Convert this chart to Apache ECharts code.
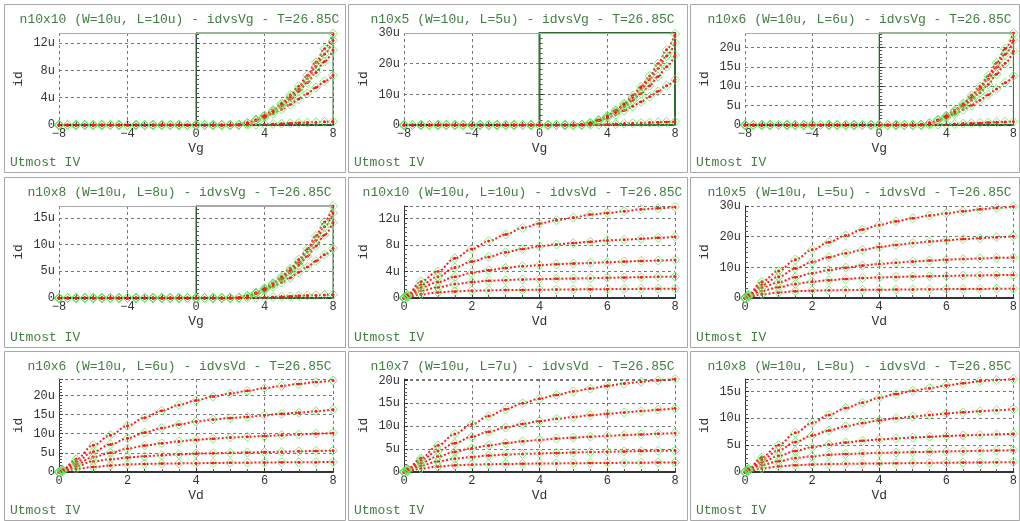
<!DOCTYPE html>
<html>
<head>
<meta charset="utf-8">
<script src="https://cdn.jsdelivr.net/npm/echarts@6/dist/echarts.min.js"></script>
<style>
html,body{margin:0;padding:0;background:#fff;}
#c{width:1020px;height:521px;}
</style>
</head>
<body>
<div id="c"></div>
<script>
// ---------- sweep grids (V) ----------
const vgOff = [-8,-7.5,-7,-6.5,-6,-5.5,-5,-4.5,-4,-3.5,-3,-2.5,-2,-1.5,-1,-0.5,0,0.5,1,1.5];
const idOff = [0,0,0,0,0,0,0,0,0,0,0,0,0,0,0,0,0,0,0,0];
const vgOn  = [2,2.5,3,3.5,4,4.5,5,5.5,6,6.5,7,7.5,8];
const vdPts = [0,0.1,0.5,1,1.5,2,2.5,3,3.5,4,4.5,5,5.5,6,6.5,7,7.5,8];

// ---------- id vs Vg (uA), curves for Vd = 8, 6, 4, 2, 0.1 ----------
const n10x10_vg_vd8  = [0,0.05,0.3,0.75,1.4,2.2,3.2,4.4,5.7,7.3,9.2,11.2,13.4];
const n10x10_vg_vd6  = [0,0.05,0.3,0.75,1.35,2.1,3.0,4.1,5.3,6.8,8.6,10.4,12.4];
const n10x10_vg_vd4  = [0,0.05,0.3,0.72,1.3,2.0,2.8,3.7,4.9,6.2,7.7,9.3,11.0];
const n10x10_vg_vd2  = [0,0.05,0.28,0.65,1.1,1.7,2.3,3.0,3.8,4.6,5.5,6.4,7.3];
const n10x10_vg_vd01 = [0,0,0.02,0.05,0.1,0.15,0.2,0.26,0.32,0.37,0.42,0.46,0.5];

const n10x5_vg_vd8  = [0,0.1,0.7,1.6,3.0,4.8,7.0,9.6,12.5,16.0,20.0,24.5,29.7];
const n10x5_vg_vd6  = [0,0.1,0.7,1.6,2.9,4.6,6.6,9.0,11.7,14.8,18.5,22.5,26.8];
const n10x5_vg_vd4  = [0,0.1,0.65,1.5,2.7,4.2,6.0,8.0,10.3,12.8,15.8,19.0,22.8];
const n10x5_vg_vd2  = [0,0.1,0.6,1.35,2.3,3.4,4.7,6.1,7.6,9.2,11.0,12.8,14.8];
const n10x5_vg_vd01 = [0,0,0.04,0.1,0.2,0.3,0.42,0.54,0.66,0.78,0.9,1.0,1.1];

const n10x6_vg_vd8  = [0,0.08,0.5,1.3,2.4,3.8,5.5,7.6,9.9,12.7,16.0,19.6,23.7];
const n10x6_vg_vd6  = [0,0.08,0.5,1.3,2.3,3.6,5.2,7.1,9.3,11.8,14.9,18.2,21.8];
const n10x6_vg_vd4  = [0,0.08,0.5,1.2,2.2,3.4,4.8,6.4,8.3,10.5,13.1,15.9,19.0];
const n10x6_vg_vd2  = [0,0.08,0.45,1.1,1.9,2.8,3.9,5.1,6.4,7.8,9.3,10.9,12.6];
const n10x6_vg_vd01 = [0,0,0.03,0.08,0.16,0.25,0.34,0.44,0.54,0.63,0.72,0.8,0.88];

const n10x8_vg_vd8  = [0,0.06,0.38,0.95,1.8,2.8,4.0,5.5,7.2,9.2,11.6,14.2,17.2];
const n10x8_vg_vd6  = [0,0.06,0.38,0.95,1.7,2.7,3.8,5.2,6.7,8.6,10.8,13.3,15.9];
const n10x8_vg_vd4  = [0,0.06,0.37,0.9,1.6,2.5,3.5,4.7,6.1,7.8,9.7,11.8,14.1];
const n10x8_vg_vd2  = [0,0.06,0.35,0.8,1.4,2.1,2.9,3.8,4.8,5.8,6.9,8.1,9.3];
const n10x8_vg_vd01 = [0,0,0.02,0.06,0.12,0.19,0.25,0.32,0.4,0.46,0.53,0.58,0.63];

// ---------- id vs Vd (uA), curves for Vg = 8, 7, 6, 5, 4 ----------
const n10x10_vd_vg8 = [0,0.5,2.5,4.0,6.0,7.4,8.6,9.6,10.6,11.25,11.75,12.15,12.6,12.85,13.1,13.4,13.55,13.75];
const n10x10_vd_vg7 = [0,0.42,2.0,3.2,4.6,5.5,6.2,6.9,7.4,7.8,8.1,8.3,8.5,8.7,8.8,8.95,9.1,9.25];
const n10x10_vd_vg6 = [0,0.33,1.6,2.4,3.2,3.8,4.2,4.55,4.8,4.95,5.1,5.2,5.3,5.4,5.5,5.6,5.65,5.75];
const n10x10_vd_vg5 = [0,0.22,1.1,1.6,2.1,2.4,2.6,2.7,2.8,2.85,2.9,2.95,3.0,3.05,3.1,3.15,3.2,3.25];
const n10x10_vd_vg4 = [0,0.1,0.55,0.85,1.0,1.1,1.15,1.2,1.22,1.25,1.27,1.3,1.32,1.34,1.36,1.38,1.39,1.4];

const n10x5_vd_vg8 = [0,1.1,5.3,8.8,12.5,15.7,18.2,20.4,22.3,23.8,25.0,26.0,26.9,27.6,28.3,28.9,29.4,29.8];
const n10x5_vd_vg7 = [0,0.9,4.3,6.9,9.6,11.7,13.3,14.6,15.7,16.6,17.3,17.9,18.4,18.8,19.2,19.5,19.8,20.1];
const n10x5_vd_vg6 = [0,0.7,3.4,5.1,6.8,8.1,9.1,9.9,10.6,11.1,11.5,11.9,12.2,12.5,12.7,12.9,13.1,13.2];
const n10x5_vd_vg5 = [0,0.5,2.3,3.5,4.6,5.3,5.8,6.2,6.5,6.7,6.85,7.0,7.1,7.2,7.3,7.35,7.45,7.5];
const n10x5_vd_vg4 = [0,0.22,1.2,1.8,2.2,2.4,2.5,2.6,2.65,2.7,2.75,2.8,2.85,2.9,2.93,2.96,3.0,3.03];

const n10x6_vd_vg8 = [0,0.6,3.3,7.0,9.6,12.1,14.2,16.0,17.5,18.7,19.7,20.5,21.2,21.9,22.5,23.0,23.5,23.9];
const n10x6_vd_vg7 = [0,0.5,2.7,5.3,7.2,8.8,10.3,11.5,12.4,13.2,13.7,14.1,14.4,14.8,15.2,15.5,15.9,16.3];
const n10x6_vd_vg6 = [0,0.4,2.1,3.9,5.0,6.1,6.9,7.5,8.0,8.4,8.7,9.0,9.2,9.4,9.6,9.8,10.0,10.2];
const n10x6_vd_vg5 = [0,0.27,1.5,2.8,3.3,3.8,4.1,4.4,4.6,4.8,4.9,5.0,5.1,5.2,5.3,5.4,5.5,5.6];
const n10x6_vd_vg4 = [0,0.12,0.8,1.3,1.7,2.0,2.1,2.2,2.25,2.3,2.35,2.4,2.44,2.48,2.52,2.55,2.58,2.6];

const n10x7_vd_vg8 = [0,0.7,3.0,5.8,8.3,10.4,12.2,13.7,15.0,16.0,16.8,17.6,18.2,18.8,19.3,19.7,20.0,20.3];
const n10x7_vd_vg7 = [0,0.6,2.6,4.6,6.3,7.7,8.8,9.7,10.5,11.1,11.6,12.0,12.4,12.7,13.0,13.3,13.6,13.9];
const n10x7_vd_vg6 = [0,0.48,2.0,3.4,4.4,5.2,5.8,6.3,6.7,7.0,7.3,7.5,7.7,7.9,8.05,8.2,8.35,8.5];
const n10x7_vd_vg5 = [0,0.33,1.4,2.3,2.9,3.3,3.6,3.8,3.95,4.05,4.15,4.25,4.35,4.42,4.5,4.57,4.63,4.7];
const n10x7_vd_vg4 = [0,0.15,0.75,1.2,1.45,1.6,1.7,1.75,1.8,1.85,1.88,1.91,1.94,1.97,2.0,2.03,2.06,2.1];

const n10x8_vd_vg8 = [0,0.6,2.7,5.0,7.3,9.1,10.6,11.9,12.9,13.8,14.5,15.1,15.6,16.1,16.5,16.9,17.1,17.3];
const n10x8_vd_vg7 = [0,0.5,2.3,4.0,5.6,6.8,7.7,8.5,9.1,9.6,10.0,10.3,10.6,10.9,11.1,11.3,11.5,11.7];
const n10x8_vd_vg6 = [0,0.42,1.8,3.0,3.9,4.6,5.1,5.5,5.8,6.05,6.25,6.4,6.55,6.7,6.8,6.9,7.0,7.1];
const n10x8_vd_vg5 = [0,0.28,1.3,2.0,2.6,2.9,3.2,3.35,3.45,3.55,3.62,3.7,3.76,3.82,3.88,3.94,4.0,4.05];
const n10x8_vd_vg4 = [0,0.13,0.65,1.05,1.25,1.4,1.47,1.52,1.56,1.6,1.63,1.66,1.69,1.72,1.75,1.77,1.8,1.82];

// ---------- panel titles and axis ranges ----------
const titles = [
  'n10x10 (W=10u, L=10u) - idvsVg - T=26.85C',
  'n10x5 (W=10u, L=5u) - idvsVg - T=26.85C',
  'n10x6 (W=10u, L=6u) - idvsVg - T=26.85C',
  'n10x8 (W=10u, L=8u) - idvsVg - T=26.85C',
  'n10x10 (W=10u, L=10u) - idvsVd - T=26.85C',
  'n10x5 (W=10u, L=5u) - idvsVd - T=26.85C',
  'n10x6 (W=10u, L=6u) - idvsVd - T=26.85C',
  'n10x7 (W=10u, L=7u) - idvsVd - T=26.85C',
  'n10x8 (W=10u, L=8u) - idvsVd - T=26.85C'
];
const sweepKind = ['Vg','Vg','Vg','Vg','Vd','Vd','Vd','Vd','Vd'];
const yMaxList  = [13.5, 30, 23.7, 17.2, 13.9, 30, 24.3, 20.3, 17.3];
const yStepList = [4, 10, 5, 5, 4, 10, 5, 5, 5];
const footer = 'Utmost IV';

const panelCurves = [
  [n10x10_vg_vd8, n10x10_vg_vd6, n10x10_vg_vd4, n10x10_vg_vd2, n10x10_vg_vd01],
  [n10x5_vg_vd8, n10x5_vg_vd6, n10x5_vg_vd4, n10x5_vg_vd2, n10x5_vg_vd01],
  [n10x6_vg_vd8, n10x6_vg_vd6, n10x6_vg_vd4, n10x6_vg_vd2, n10x6_vg_vd01],
  [n10x8_vg_vd8, n10x8_vg_vd6, n10x8_vg_vd4, n10x8_vg_vd2, n10x8_vg_vd01],
  [n10x10_vd_vg8, n10x10_vd_vg7, n10x10_vd_vg6, n10x10_vd_vg5, n10x10_vd_vg4],
  [n10x5_vd_vg8, n10x5_vd_vg7, n10x5_vd_vg6, n10x5_vd_vg5, n10x5_vd_vg4],
  [n10x6_vd_vg8, n10x6_vd_vg7, n10x6_vd_vg6, n10x6_vd_vg5, n10x6_vd_vg4],
  [n10x7_vd_vg8, n10x7_vd_vg7, n10x7_vd_vg6, n10x7_vd_vg5, n10x7_vd_vg4],
  [n10x8_vd_vg8, n10x8_vd_vg7, n10x8_vd_vg6, n10x8_vd_vg5, n10x8_vd_vg4]
];

// ---------- page layout (px) ----------
const plotX  = [[59, 333], [404, 675], [745, 1016]];
const plotY  = [[33, 125], [206, 298], [379, 472]];
const frameX = [[4, 345], [348, 687], [690, 1019]];
const frameY = [[4, 172], [177, 347], [351, 520]];

const MONO = "'Liberation Mono','DejaVu Sans Mono',monospace";
const GREEN_TXT = '#3f7f3f';
const RED = '#ff1a1a';
const MEAS = '#5ce65c';
const BOX = '#2e6e2e';

function uLabel(step) {
  return function (v) {
    if (Math.abs(v / step - Math.round(v / step)) > 1e-6) return '';
    return v === 0 ? '0' : (Math.round(v * 100) / 100) + 'u';
  };
}

const grids = [], xAxes = [], yAxes = [], series = [], titleOpts = [], graphics = [];

for (let p = 0; p < 9; p++) {
  const col = p % 3, row = Math.floor(p / 3);
  const isVg = sweepKind[p] === 'Vg';
  const [x0, x1] = plotX[col];
  const [y0, y1] = plotY[row];
  const [fx0, fx1] = frameX[col];
  const [fy0, fy1] = frameY[row];

  grids.push({ left: x0, top: y0, width: x1 - x0, height: y1 - y0 });

  titleOpts.push({
    text: titles[p],
    left: (fx0 + fx1) / 2,
    top: fy0 + 4,
    textAlign: 'center',
    textStyle: { fontFamily: MONO, fontSize: 13, fontWeight: 'normal', color: GREEN_TXT }
  });

  graphics.push({
    type: 'rect', silent: true, z: 0,
    shape: { x: fx0 + 0.5, y: fy0 + 0.5, width: fx1 - fx0, height: fy1 - fy0 },
    style: { fill: null, stroke: '#a8a8a8', lineWidth: 1 }
  });
  graphics.push({
    type: 'text', silent: true,
    left: fx0 + 6, top: fy1 - 16,
    style: { text: footer, font: '13px ' + MONO, fill: GREEN_TXT }
  });

  xAxes.push({
    gridIndex: p, type: 'value',
    min: isVg ? -8 : 0, max: 8, interval: isVg ? 4 : 2,
    name: sweepKind[p], nameLocation: 'middle', nameGap: 17,
    nameTextStyle: { fontFamily: MONO, fontSize: 13, color: '#333' },
    axisLine: { onZero: false, lineStyle: { color: '#333', width: 2 } },
    axisTick: { show: true, inside: true, length: 4, lineStyle: { color: '#333' } },
    minorTick: { show: true, splitNumber: 4, length: 3, lineStyle: { color: '#555' } },
    axisLabel: { fontFamily: MONO, fontSize: 12, color: '#333', margin: 3,
                 formatter: v => (v < 0 ? '\u2212' + Math.abs(v) : String(v)) },
    splitLine: { show: true, lineStyle: { color: '#777', type: [3, 3], width: 1 } }
  });

  yAxes.push({
    gridIndex: p, type: 'value',
    min: 0, max: yMaxList[p], interval: yStepList[p],
    name: 'id', nameLocation: 'middle', nameGap: 34,
    nameTextStyle: { fontFamily: MONO, fontSize: 13, color: '#333' },
    axisLine: { show: true, lineStyle: { color: '#333', width: 1 } },
    axisTick: { show: true, inside: true, length: 4, lineStyle: { color: '#333' } },
    minorTick: { show: true, splitNumber: 6, length: 3, lineStyle: { color: '#555' } },
    axisLabel: { fontFamily: MONO, fontSize: 12, color: '#333', margin: 4,
                 formatter: uLabel(yStepList[p]) },
    splitLine: { show: true, lineStyle: { color: '#777', type: [3, 3], width: 1 } }
  });

  const xs = isVg ? vgOff.concat(vgOn) : vdPts;
  panelCurves[p].forEach((curve, k) => {
    const ys = isVg ? idOff.concat(curve) : curve;
    const pts = xs.map((x, i) => [x, ys[i]]);
    const line = {
      type: 'line', xAxisIndex: p, yAxisIndex: p, data: pts,
      smooth: 0.35, smoothMonotone: 'x',
      symbol: 'circle', symbolSize: 3, showSymbol: true,
      itemStyle: { color: RED },
      lineStyle: { color: RED, width: 2, type: [2, 2] },
      animation: false, z: 3
    };
    if (isVg && k === 0) {
      // bias window and upper frame edge
      line.markArea = {
        silent: true,
        itemStyle: { color: 'rgba(0,0,0,0)', borderColor: BOX, borderWidth: p === 1 ? 2 : 1 },
        data: [[{ coord: [0, yMaxList[p]] }, { coord: [8, 0] }]]
      };
      line.markLine = {
        silent: true, symbol: 'none', label: { show: false },
        lineStyle: { color: '#aaa', type: 'solid', width: 1 },
        data: [{ yAxis: yMaxList[p] }]
      };
    }
    series.push(line);
    series.push({
      type: 'scatter', xAxisIndex: p, yAxisIndex: p, data: pts,
      symbol: 'diamond', symbolSize: 9,
      itemStyle: { color: 'rgba(0,0,0,0)', borderColor: MEAS, borderWidth: 1 },
      animation: false, z: 4
    });
  });
}

const chart = echarts.init(document.getElementById('c'), null, { renderer: 'canvas' });
chart.setOption({
  backgroundColor: '#fff',
  animation: false,
  title: titleOpts,
  grid: grids,
  xAxis: xAxes,
  yAxis: yAxes,
  series: series,
  graphic: graphics
});
</script>
</body>
</html>
